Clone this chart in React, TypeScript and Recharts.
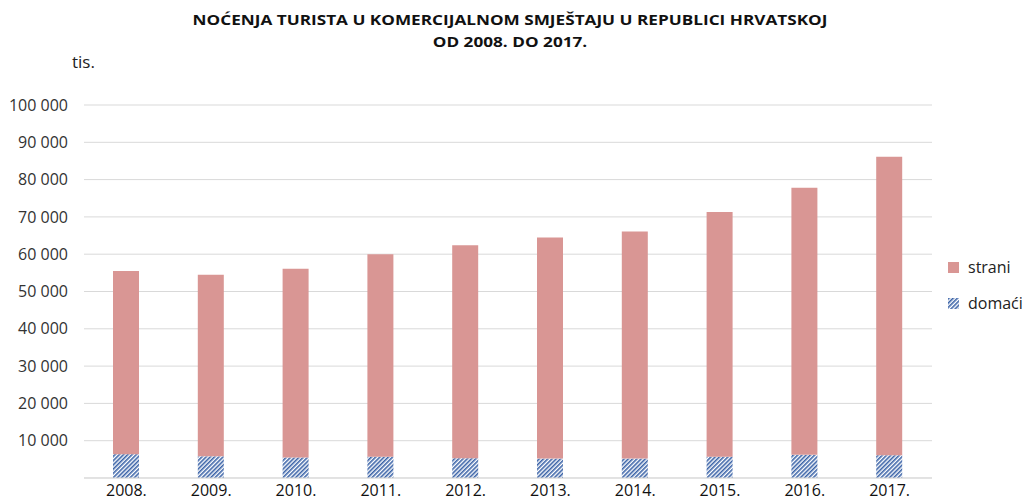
import React from 'react';
import { BarChart, Bar, XAxis, YAxis, CartesianGrid } from 'recharts';

// Godine i vrijednosti (tis. noćenja)
const godine = ['2008.', '2009.', '2010.', '2011.', '2012.', '2013.', '2014.', '2015.', '2016.', '2017.'];
const domaci = [6400, 5800, 5500, 5700, 5300, 5200, 5200, 5700, 6200, 6100];
const ukupno = [55500, 54500, 56100, 60000, 62400, 64500, 66100, 71300, 77800, 86100];
const yTicks = [0, 10000, 20000, 30000, 40000, 50000, 60000, 70000, 80000, 90000, 100000];

const data = godine.map((g, i) => ({
  name: g,
  domaci: domaci[i],
  strani: ukupno[i] - domaci[i],
}));

const FONT = '"Open Sans", Lato, sans-serif';
const STRANI = '#d99694';

const formatTis = (v: number) => (v === 0 ? '' : v.toLocaleString('en-US').replace(/,/g, ' '));

const Hatch = ({ size = 12 }: { size?: number }) => (
  <svg width={size} height={size} style={{ display: 'block' }}>
    <defs>
      <pattern id="hatchLegend" width="3" height="3" patternUnits="userSpaceOnUse" patternTransform="rotate(45)">
        <rect width="3" height="3" fill="#fff" />
        <rect width="1.6" height="3" fill="#3c64a8" />
      </pattern>
    </defs>
    <rect width={size} height={size} fill="url(#hatchLegend)" />
  </svg>
);

export default function App() {
  return (
    <div style={{ position: 'relative', margin: -8, width: 1030, height: 504, overflow: 'hidden', background: '#fff', fontFamily: FONT }}>
      <div
        style={{
          position: 'absolute', left: 0, top: 8, width: 1020, textAlign: 'center', fontWeight: 700,
          fontSize: 15, lineHeight: '22px', color: '#111', transform: 'scaleX(1.145)', transformOrigin: '510px 0',
        }}
      >
        NOĆENJA TURISTA U KOMERCIJALNOM SMJEŠTAJU U REPUBLICI HRVATSKOJ
        <br />
        OD 2008. DO 2017.
      </div>
      <div style={{ position: 'absolute', left: 72, top: 50, fontSize: 17, color: '#222' }}>tis.</div>

      <BarChart
        width={1030}
        height={504}
        data={data}
        margin={{ top: 105, right: 98, bottom: 0, left: 0 }}
        barSize={26}
      >
        <defs>
          <pattern id="hatchBar" width="3" height="3" patternUnits="userSpaceOnUse" patternTransform="rotate(45)">
            <rect width="3" height="3" fill="#fff" />
            <rect width="1.6" height="3" fill="#3c64a8" />
          </pattern>
        </defs>
        <CartesianGrid vertical={false} stroke="#d9d9d9" />
        <XAxis
          dataKey="name"
          height={26}
          tickLine={false}
          axisLine={{ stroke: '#d9d9d9' }}
          tickSize={0}
          tickMargin={7}
          tick={{ fill: '#111', fontSize: 16, fontFamily: FONT }}
        />
        <YAxis
          width={84}
          domain={[0, 100000]}
          ticks={yTicks}
          tickFormatter={formatTis}
          axisLine={false}
          tickLine={false}
          tickSize={0}
          tickMargin={16}
          tick={{ fill: '#333', fontSize: 16, fontFamily: FONT }}
        />
        <Bar dataKey="domaci" stackId="a" fill="url(#hatchBar)" isAnimationActive={false} />
        <Bar dataKey="strani" stackId="a" fill={STRANI} isAnimationActive={false} />
      </BarChart>

      <div style={{ position: 'absolute', left: 948, top: 255, width: 90, fontSize: 16, color: '#222', whiteSpace: 'nowrap' }}>
        <div style={{ display: 'flex', alignItems: 'center', height: 24 }}>
          <span style={{ width: 11, height: 11, background: STRANI, display: 'inline-block', marginRight: 9 }} />
          strani
        </div>
        <div style={{ display: 'flex', alignItems: 'center', height: 24, marginTop: 12 }}>
          <span style={{ marginRight: 9 }}><Hatch size={11} /></span>
          domaći
        </div>
      </div>
    </div>
  );
}
